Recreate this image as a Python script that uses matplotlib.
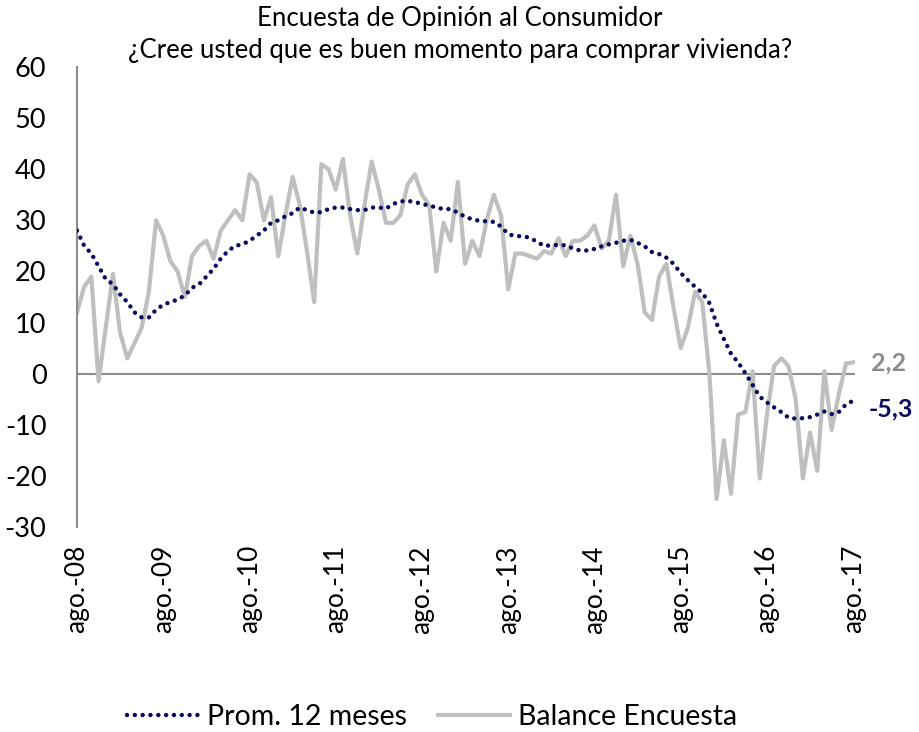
import numpy as np
import matplotlib
matplotlib.use("Agg")
from matplotlib import pyplot as plt

# Monthly series, ago-08 .. ago-17 (109 months)
balance = [
    12, 17, 19, -1.5, 9, 19.5, 8, 3, 6, 9,            # 0-9
    16, 30, 27, 22, 20, 15, 23, 25, 26, 22.5,          # 10-19
    28, 30, 32, 30, 39, 37.5, 30, 34.5, 23, 31,        # 20-29
    38.5, 33, 24, 14, 41, 40, 36, 42, 31, 23.5,        # 30-39
    33, 41.5, 36, 29.5, 29.5, 31, 37, 39, 35, 33,      # 40-49
    20, 29.5, 26, 37.5, 21.5, 26, 23, 30, 35, 31,      # 50-59
    16.5, 23.5, 23.5, 23, 22.5, 24, 23.5, 26.5, 23, 26,  # 60-69
    26, 27, 29, 24.5, 26, 35, 21, 27, 21.5, 12,        # 70-79
    10.5, 19, 21.5, 13, 5, 9, 16, 14, 0, -24.5,        # 80-89
    -13, -23.5, -8, -7.5, 0.5, -20.5, -8, 1.5, 3, 1.5,  # 90-99
    -5, -20.5, -11.5, -19, 0.5, -11, -4, 2, 2.2,       # 100-108
]

prom12 = [
    28, 25, 23.5, 21, 18.5, 17.5, 15.5, 14, 12, 11,    # 0-9
    11, 12.5, 13.5, 14, 14.5, 15.3, 16.8, 17.5, 19, 20.5,  # 10-19
    22.5, 24, 25, 25.3, 26, 27, 28, 29.5, 30, 30.8,    # 20-29
    31.4, 32.5, 32, 31.5, 31.6, 32.2, 32.5, 32.5, 32.2, 32,  # 30-39
    32, 32.5, 32.5, 32.3, 33.2, 33.7, 33.8, 33.6, 33.2, 32.9,  # 40-49
    32.5, 32.2, 32.2, 31.5, 30.7, 30.2, 29.9, 29.8, 29.7, 28.8,  # 50-59
    27.3, 26.9, 26.9, 26.6, 25.8, 25, 25.1, 25.2, 25.1, 24.5,  # 60-69
    24.1, 24.1, 24.4, 24.9, 25.3, 25.6, 26, 26.2, 25.6, 24.9,  # 70-79
    23.8, 23.4, 22.7, 21.5, 19.7, 18.3, 17, 15.8, 13.8, 9.8,  # 80-89
    6.8, 3.9, 2.2, 0.1, -2.2, -4.5, -5.6, -6.6, -7.5, -8.6,  # 90-99
    -8.8, -8.7, -8.5, -8, -7.4, -7.9, -7.5, -6, -5.3,  # 100-108
]

tick_labels = ['ago.-08', 'ago.-09', 'ago.-10', 'ago.-11', 'ago.-12',
               'ago.-13', 'ago.-14', 'ago.-15', 'ago.-16', 'ago.-17']

months = np.arange(len(balance))

plt.rcParams['font.family'] = ['Lato', 'DejaVu Sans']
plt.rcParams['axes.unicode_minus'] = False

fig = plt.figure(figsize=(9.2, 7.32), dpi=100)
ax = fig.add_axes([0.0837, 0.28, 0.846, 0.6285])

navy = '#0A0A5C'
grey = '#BFBFBF'

ax.axhline(0, color='#8C8C8C', lw=1.5, zorder=1)
ax.plot(months, balance, color=grey, lw=3, solid_joinstyle='round',
        label='Balance Encuesta', zorder=2)
ax.plot(months, prom12, color=navy, lw=3.2, linestyle=(0, (0.01, 1.75)),
        dash_capstyle='round', label='Prom. 12 meses', zorder=3)

ax.set_xlim(0, 108.3)
ax.set_ylim(-30, 60)
ax.set_yticks(range(-30, 61, 10))
ax.set_xticks(range(0, 109, 12))
ax.set_xticklabels(tick_labels, rotation=90, va='top', ha='center')
ax.tick_params(axis='both', length=0, colors='black')
ax.tick_params(axis='y', pad=22, labelsize=19.5)
ax.tick_params(axis='x', pad=13, labelsize=19)

for side in ['top', 'right', 'bottom']:
    ax.spines[side].set_visible(False)
ax.spines['left'].set_color('#8C8C8C')
ax.spines['left'].set_linewidth(1.5)

ax.text(len(balance) - 1 + 2.5, balance[-1], '2,2', color='#8C8C8C',
        fontsize=18, fontweight='bold', va='center', ha='left', clip_on=False)
ax.text(len(prom12) - 1 + 2.2, prom12[-1] - 1.5, '-5,3', color=navy,
        fontsize=18, fontweight='bold', va='center', ha='left', clip_on=False)

fig.text(0.5, 0.975, 'Encuesta de Opinión al Consumidor', ha='center',
         va='center', fontsize=18.5)
fig.text(0.5, 0.931, '¿Cree usted que es buen momento para comprar vivienda?',
         ha='center', va='center', fontsize=18.5)

handles, labels = ax.get_legend_handles_labels()
fig.legend(handles[::-1], labels[::-1], loc='center', bbox_to_anchor=(0.47, 0.02),
           ncol=2, frameon=False, fontsize=20.5, handlelength=2.5,
           columnspacing=1.1, handletextpad=0.3)

fig.savefig('out.png', dpi=100, facecolor='white')
